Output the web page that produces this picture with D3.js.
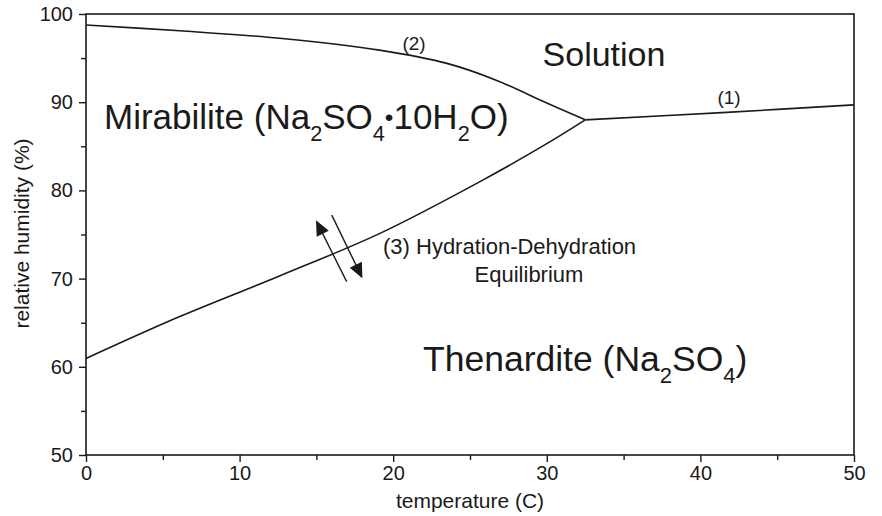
<!DOCTYPE html>
<html><head><meta charset="utf-8">
<script src="https://cdn.jsdelivr.net/npm/d3@7"></script>
<style>
body{margin:0;background:#fff;}
svg{display:block;font-family:"Liberation Sans",Arial,sans-serif;}
</style></head>
<body><svg id="c" width="882" height="516"></svg>
<script>
// ---- data ----
const xTicks = [0, 10, 20, 30, 40, 50];
const yTicks = [50, 60, 70, 80, 90, 100];
// curve (1): solution / thenardite boundary
const curve1T  = [32.5, 41.7, 50];
const curve1RH = [88.0, 88.85, 89.7];
// curve (2): solution / mirabilite boundary
const curve2T  = [0, 6.1, 12.6, 19.1, 23.5, 26.7, 30.0, 32.5];
const curve2RH = [98.75, 98.1, 97.25, 95.9, 94.4, 92.5, 89.9, 88.0];
// curve (3): hydration-dehydration equilibrium
const curve3T  = [0, 6.1, 12.6, 19.1, 25.65, 30.0, 32.5];
const curve3RH = [60.95, 65.7, 70.3, 75.1, 81.0, 85.3, 88.0];
// double arrow across curve (3): [tailT, tailRH, tipT, tipRH]
const arrowUp   = [16.97, 69.65, 15.02, 76.45];
const arrowDown = [16.0, 77.2, 17.95, 70.2];

const W = 882, H = 516;
const m = {l: 86, t: 14, r: 28, b: 61};
const svg = d3.select("#c");
const x = d3.scaleLinear().domain([0, 50]).range([m.l, W - m.r]);
const y = d3.scaleLinear().domain([50, 100]).range([H - m.b, m.t]);
const ink = "#1a1a1a";

// frame
svg.append("rect").attr("x", x(0)).attr("y", y(100))
  .attr("width", x(50) - x(0)).attr("height", y(50) - y(100))
  .attr("fill", "none").attr("stroke", ink).attr("stroke-width", 1.6);

// axes
const xMinor = d3.range(5, 50, 10);
const yMinor = d3.range(55, 100, 10);
const gx = svg.append("g").attr("transform", `translate(0,${y(50)})`);
gx.call(d3.axisBottom(x).tickValues(xTicks).tickSize(7).tickPadding(4).tickFormat(d3.format("d")));
gx.append("g").call(d3.axisBottom(x).tickValues(xMinor).tickSize(5).tickFormat(""));
const gy = svg.append("g").attr("transform", `translate(${x(0)},0)`);
gy.call(d3.axisLeft(y).tickValues(yTicks).tickSize(7).tickPadding(6).tickFormat(d3.format("d")));
gy.append("g").call(d3.axisLeft(y).tickValues(yMinor).tickSize(5).tickFormat(""));
svg.selectAll(".domain").remove();
svg.selectAll(".tick line").attr("stroke", ink).attr("stroke-width", 1.4);
svg.selectAll(".tick text").attr("fill", ink).style("font-size", "20px")
  .style("font-family", "'Liberation Sans',Arial,sans-serif");

// axis titles
svg.append("text").attr("x", (x(0) + x(50)) / 2).attr("y", 508)
  .attr("text-anchor", "middle").attr("fill", ink).style("font-size", "21px")
  .text("temperature (C)");
svg.append("text").attr("transform", `translate(29,${(y(50) + y(100)) / 2 - 1}) rotate(-90)`)
  .attr("text-anchor", "middle").attr("fill", ink).style("font-size", "21px")
  .text("relative humidity (%)");

// curves
const line = d3.line().x(d => x(d[0])).y(d => y(d[1])).curve(d3.curveCatmullRom.alpha(0.5));
function drawCurve(T, RH) {
  svg.append("path").datum(T.map((t, i) => [t, RH[i]]))
    .attr("d", line).attr("fill", "none").attr("stroke", ink).attr("stroke-width", 1.6);
}
drawCurve(curve1T, curve1RH);
drawCurve(curve2T, curve2RH);
drawCurve(curve3T, curve3RH);

// arrows
svg.append("defs").append("marker").attr("id", "ah")
  .attr("viewBox", "0 0 10 10").attr("refX", 9).attr("refY", 5)
  .attr("markerWidth", 16).attr("markerHeight", 15).attr("markerUnits", "userSpaceOnUse")
  .attr("orient", "auto")
  .append("path").attr("d", "M0,0.5 L10,5 L0,9.5 Z").attr("fill", ink);
[arrowUp, arrowDown].forEach(a => {
  svg.append("line").attr("x1", x(a[0])).attr("y1", y(a[1]))
    .attr("x2", x(a[2])).attr("y2", y(a[3]))
    .attr("stroke", ink).attr("stroke-width", 1.4).attr("marker-end", "url(#ah)");
});

// region labels
function chem(xp, yp, size, parts) {
  const t = svg.append("text").attr("x", xp).attr("y", yp).attr("fill", ink)
    .style("font-size", size + "px");
  parts.forEach(p => {
    if (p.sub) {
      t.append("tspan").attr("dy", size * 0.34).style("font-size", (size * 0.62) + "px").text(p.s);
    } else if (p.dot) {
      t.append("tspan").attr("dy", -size * 0.34 - size * 0.1).style("font-size", (size * 0.7) + "px").text(p.s);
    } else if (p.afterDot) {
      t.append("tspan").attr("dy", size * 0.1).text(p.s);
    } else if (p.after) {
      t.append("tspan").attr("dy", -size * 0.34).text(p.s);
    } else {
      t.append("tspan").text(p.s);
    }
  });
  return t;
}
svg.append("text").attr("x", 604).attr("y", 66).attr("text-anchor", "middle")
  .attr("fill", ink).style("font-size", "34px").text("Solution");
chem(104, 129, 35, [
  {s: "Mirabilite (Na"}, {s: "2", sub: true}, {s: "SO", after: true}, {s: "4", sub: true},
  {s: "\u2022", dot: true}, {s: "10H", afterDot: true}, {s: "2", sub: true}, {s: "O)", after: true}
]);
chem(423, 371, 35.5, [
  {s: "Thenardite (Na"}, {s: "2", sub: true}, {s: "SO", after: true}, {s: "4", sub: true},
  {s: ")", after: true}
]);

// curve labels
svg.append("text").attr("x", 414).attr("y", 50).attr("text-anchor", "middle")
  .attr("fill", ink).style("font-size", "19px").text("(2)");
svg.append("text").attr("x", 729).attr("y", 104).attr("text-anchor", "middle")
  .attr("fill", ink).style("font-size", "19px").text("(1)");
svg.append("text").attr("x", 383).attr("y", 254)
  .attr("fill", ink).style("font-size", "22px").text("(3) Hydration-Dehydration");
svg.append("text").attr("x", 529).attr("y", 282).attr("text-anchor", "middle")
  .attr("fill", ink).style("font-size", "22px").text("Equilibrium");
</script></body></html>
